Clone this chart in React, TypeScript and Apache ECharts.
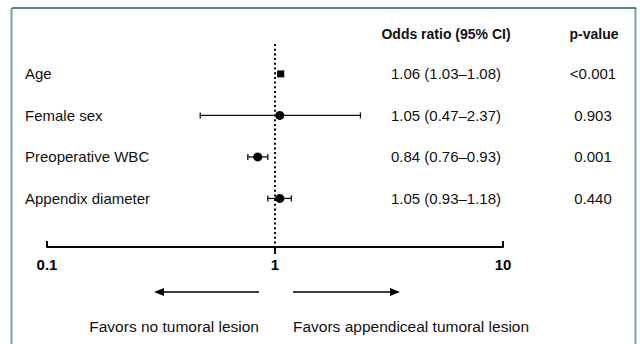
import React, { useEffect, useRef } from "react";
import * as echarts from "echarts";

const variables = ["Age", "Female sex", "Preoperative WBC", "Appendix diameter"];
const oddsRatios = [1.06, 1.05, 0.84, 1.05];
const ciLower = [1.03, 0.47, 0.76, 0.93];
const ciUpper = [1.08, 2.37, 0.93, 1.18];
const pValues = ["<0.001", "0.903", "0.001", "0.440"];
const markerShapes = ["rect", "circle", "circle", "circle"];
const xTicks = [0.1, 1, 10];
const headers = ["Odds ratio (95% CI)", "p-value"];
const directionLabels = ["Favors no tumoral lesion", "Favors appendiceal tumoral lesion"];

const FONT = "'Liberation Sans', Arial, Helvetica, sans-serif";
const Y_MIN = -0.72;
const Y_MAX = 4.17;

const fmt = (v: number) => v.toFixed(2);
const orTexts = oddsRatios.map((v, i) => `${fmt(v)} (${fmt(ciLower[i])}–${fmt(ciUpper[i])})`);

export default function App() {
  const ref = useRef<HTMLDivElement>(null);

  useEffect(() => {
    if (!ref.current) return;
    const chart = echarts.init(ref.current, undefined, { renderer: "svg" });

    const option: any = {
      animation: false,
      grid: { left: 47, right: 137, top: 44, bottom: 97 },
      xAxis: {
        type: "log",
        logBase: 10,
        min: 0.1,
        max: 10,
        axisLine: { show: true, onZero: false, lineStyle: { color: "#000", width: 2 } },
        axisTick: { show: false },
        minorTick: { show: false },
        splitLine: { show: false },
        axisLabel: {
          color: "#000",
          fontSize: 15,
          fontWeight: "bold",
          fontFamily: FONT,
          margin: 10,
          formatter: (v: number) => String(+Number(v).toPrecision(3)),
        },
      },
      yAxis: {
        type: "value",
        inverse: true,
        min: Y_MIN,
        max: Y_MAX,
        show: false,
      },
      series: [
        {
          type: "line",
          data: [
            [1, Y_MIN],
            [1, Y_MAX],
          ],
          symbol: "none",
          lineStyle: { color: "#000", width: 2, type: [2, 2.7] },
          silent: true,
        },
        {
          type: "custom",
          data: xTicks.map((t) => [t]),
          renderItem: (params: any, api: any) => {
            const x = api.value(0);
            const p = api.coord([x, Y_MAX]);
            const down = x === 1;
            return {
              type: "line",
              shape: { x1: p[0], y1: p[1], x2: p[0], y2: down ? p[1] + 7 : p[1] - 6 },
              style: { stroke: "#000", lineWidth: 2 },
            };
          },
          clip: false,
          silent: true,
        },
        {
          type: "custom",
          data: variables.map((_, i) => [ciLower[i], ciUpper[i], i]),
          renderItem: (params: any, api: any) => {
            const lo = api.coord([api.value(0), api.value(2)]);
            const hi = api.coord([api.value(1), api.value(2)]);
            const h = 3;
            const st = { stroke: "#111", lineWidth: 1.3 };
            return {
              type: "group",
              children: [
                { type: "line", shape: { x1: lo[0], y1: lo[1], x2: hi[0], y2: hi[1] }, style: st },
                { type: "line", shape: { x1: lo[0], y1: lo[1] - h, x2: lo[0], y2: lo[1] + h }, style: st },
                { type: "line", shape: { x1: hi[0], y1: hi[1] - h, x2: hi[0], y2: hi[1] + h }, style: st },
              ],
            };
          },
          silent: true,
        },
        {
          type: "scatter",
          data: oddsRatios.map((v, i) => ({
            value: [v, i],
            symbol: markerShapes[i],
            symbolSize: markerShapes[i] === "rect" ? 7 : 9,
          })),
          itemStyle: { color: "#000", opacity: 1 },
          silent: true,
          z: 5,
        },
      ],
    };
    chart.setOption(option);

    const rowY = variables.map((_, i) => chart.convertToPixel({ xAxisIndex: 0, yAxisIndex: 0 }, [1, i])[1]);
    const refX = chart.convertToPixel({ xAxisIndex: 0, yAxisIndex: 0 }, [1, 0])[0];

    const txt = (text: string, x: number, y: number, align: string, bold = false, size = 15) => ({
      type: "text",
      x,
      y,
      style: {
        text,
        fill: "#111",
        font: `${bold ? "bold " : ""}${size}px ${FONT}`,
        textAlign: align,
        textVerticalAlign: "middle",
      },
      silent: true,
    });

    const graphic: any[] = [];
    // frame
    graphic.push({ type: "line", shape: { x1: 11.5, y1: 8, x2: 11.5, y2: 344 }, style: { stroke: "#75a4a9", lineWidth: 2 } });
    graphic.push({ type: "line", shape: { x1: 635.5, y1: 8, x2: 635.5, y2: 344 }, style: { stroke: "#75a4a9", lineWidth: 2 } });
    graphic.push({ type: "line", shape: { x1: 12, y1: 8, x2: 636, y2: 8 }, style: { stroke: "#1b5d66", lineWidth: 1.5 } });
    // headers
    graphic.push(txt(headers[0], 446, 34, "center", true, 14));
    graphic.push(txt(headers[1], 594, 34, "center", true, 14));
    variables.forEach((v, i) => {
      graphic.push(txt(v, 25, rowY[i], "left"));
      graphic.push(txt(orTexts[i], 446, rowY[i], "center"));
      graphic.push(txt(pValues[i], 593, rowY[i], "center"));
    });
    // arrows
    const ay = 292;
    const lTip = refX - 121;
    const lEnd = refX - 16;
    const rStart = refX + 18;
    const rTip = refX + 125;
    graphic.push({ type: "line", shape: { x1: lTip + 6, y1: ay, x2: lEnd, y2: ay }, style: { stroke: "#000", lineWidth: 1.3 } });
    graphic.push({ type: "polygon", shape: { points: [[lTip, ay], [lTip + 10, ay - 4], [lTip + 10, ay + 4]] }, style: { fill: "#000" } });
    graphic.push({ type: "line", shape: { x1: rStart, y1: ay, x2: rTip - 6, y2: ay }, style: { stroke: "#000", lineWidth: 1.3 } });
    graphic.push({ type: "polygon", shape: { points: [[rTip, ay], [rTip - 10, ay - 4], [rTip - 10, ay + 4]] }, style: { fill: "#000" } });
    graphic.push(txt(directionLabels[0], lEnd, 326, "right", false, 15.5));
    graphic.push(txt(directionLabels[1], rStart, 326, "left", false, 15.5));

    chart.setOption({ graphic });

    return () => chart.dispose();
  }, []);

  return (
    <div
      ref={ref}
      style={{ position: "absolute", left: 0, top: 0, width: 640, height: 344, background: "#fff" }}
    />
  );
}
